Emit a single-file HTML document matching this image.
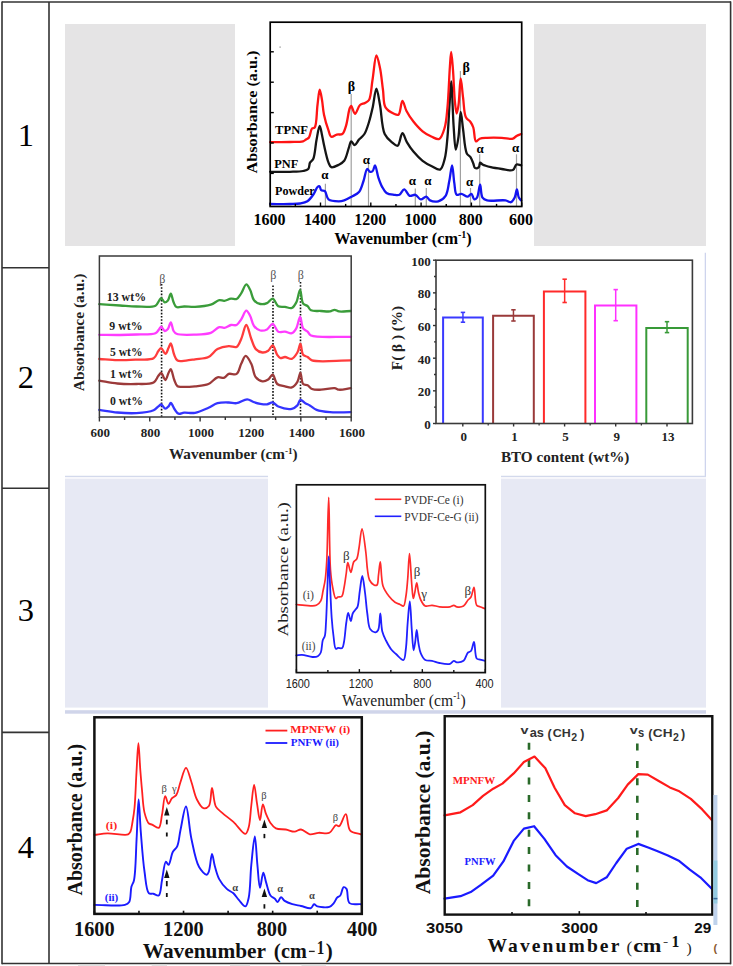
<!DOCTYPE html>
<html><head><meta charset="utf-8"><title>FTIR table</title>
<style>
html,body{margin:0;padding:0;background:#fff;}
body{width:733px;height:966px;overflow:hidden;font-family:"Liberation Serif",serif;}
svg{display:block;}
</style></head><body>
<svg width="733" height="966" viewBox="0 0 733 966">
<line x1="2" y1="2" x2="731" y2="2" stroke="#333" stroke-width="1.6" />
<line x1="2" y1="1.5" x2="2" y2="964.3" stroke="#333" stroke-width="1.6" />
<line x1="730.6" y1="1.5" x2="730.6" y2="964.3" stroke="#333" stroke-width="1.6" />
<line x1="2" y1="963.5" x2="731" y2="963.5" stroke="#333" stroke-width="1.6" />
<line x1="49" y1="2" x2="49" y2="964" stroke="#333" stroke-width="1.6" />
<rect x="78" y="964.6" width="27" height="1.4" fill="#e2e2e2" stroke="none" stroke-width="1" />
<rect x="151.7" y="964.6" width="15.300000000000011" height="1.4" fill="#e2e2e2" stroke="none" stroke-width="1" />
<rect x="230" y="964.6" width="20" height="1.4" fill="#e2e2e2" stroke="none" stroke-width="1" />
<rect x="301.5" y="964.6" width="24.5" height="1.4" fill="#e2e2e2" stroke="none" stroke-width="1" />
<rect x="279.5" y="46.5" width="1.2" height="1.2" fill="#888"/>
<line x1="2" y1="267.8" x2="49" y2="267.8" stroke="#333" stroke-width="1.6" />
<line x1="2" y1="488.3" x2="49" y2="488.3" stroke="#333" stroke-width="1.6" />
<line x1="2" y1="732.4" x2="49" y2="732.4" stroke="#333" stroke-width="1.6" />
<text x="25.8" y="145.6" font-family="Liberation Serif" font-size="32.5" fill="#000" text-anchor="middle" >1</text>
<text x="25.8" y="388.0" font-family="Liberation Serif" font-size="32.5" fill="#000" text-anchor="middle" >2</text>
<text x="25.8" y="620.6" font-family="Liberation Serif" font-size="32.5" fill="#000" text-anchor="middle" >3</text>
<text x="25.8" y="857.8" font-family="Liberation Serif" font-size="32.5" fill="#000" text-anchor="middle" >4</text>
<rect x="65" y="24" width="170" height="222" fill="#e5e4e5" stroke="none" stroke-width="1" />
<rect x="534" y="24" width="172" height="222" fill="#e5e4e5" stroke="none" stroke-width="1" />
<line x1="351.2" y1="94" x2="351.2" y2="206.5" stroke="#a0a0a0" stroke-width="1.2" />
<line x1="325.4" y1="183.8" x2="325.4" y2="206.5" stroke="#a0a0a0" stroke-width="1.2" />
<line x1="368.5" y1="163.5" x2="368.5" y2="206.5" stroke="#a0a0a0" stroke-width="1.2" />
<line x1="415.3" y1="188.4" x2="415.3" y2="206.5" stroke="#a0a0a0" stroke-width="1.2" />
<line x1="426.3" y1="188" x2="426.3" y2="206.5" stroke="#a0a0a0" stroke-width="1.2" />
<line x1="460.4" y1="71" x2="460.4" y2="206.5" stroke="#a0a0a0" stroke-width="1.2" />
<line x1="470.5" y1="188" x2="470.5" y2="206.5" stroke="#a0a0a0" stroke-width="1.2" />
<line x1="479.7" y1="154.3" x2="479.7" y2="206.5" stroke="#a0a0a0" stroke-width="1.2" />
<line x1="516.5" y1="154.3" x2="516.5" y2="206.5" stroke="#a0a0a0" stroke-width="1.2" />
<path d="M270.20,204.00 C276.80,204.00 284.52,204.14 290.00,204.00 C293.90,203.90 296.95,204.02 300.00,203.50 C302.68,203.04 305.20,202.72 307.40,201.30 C309.87,199.70 312.06,196.42 313.80,193.90 C315.35,191.64 316.24,188.12 317.50,187.00 C318.16,186.41 318.94,185.97 319.50,186.20 C320.29,186.53 320.25,189.37 321.20,190.20 C322.09,190.98 323.84,190.29 324.90,191.20 C326.51,192.59 326.36,197.70 328.50,199.40 C330.81,201.23 335.82,201.27 338.70,201.30 C340.81,201.32 342.28,201.02 344.20,200.40 C346.54,199.64 349.17,198.08 351.60,196.70 C354.10,195.28 357.08,194.30 359.00,192.00 C361.24,189.32 362.15,184.78 363.50,181.00 C364.89,177.12 365.69,169.37 367.20,169.00 C368.05,168.79 368.99,171.54 370.00,171.80 C370.85,172.02 371.95,171.67 372.70,171.00 C373.80,170.01 374.23,165.35 375.00,165.40 C376.10,165.47 377.06,173.61 378.30,177.30 C379.42,180.62 380.52,183.86 382.00,186.60 C383.31,189.02 384.49,191.63 386.50,193.00 C388.50,194.36 391.69,194.53 394.00,194.80 C395.93,195.03 397.80,195.53 399.40,194.80 C401.26,193.95 402.55,189.29 404.20,189.30 C405.98,189.31 407.62,195.05 409.70,195.80 C411.40,196.41 413.54,194.33 415.30,194.80 C417.27,195.32 418.89,199.17 420.80,199.40 C422.57,199.61 424.73,196.44 426.30,196.70 C427.75,196.94 428.34,199.61 430.00,200.40 C432.09,201.40 435.75,202.00 438.30,201.30 C440.97,200.56 443.81,198.50 445.60,195.80 C447.91,192.31 448.22,186.02 449.30,181.00 C450.40,175.89 451.28,165.38 452.10,165.40 C452.96,165.42 453.44,177.64 454.30,182.90 C455.01,187.26 454.87,193.58 456.70,194.80 C457.84,195.56 459.67,193.72 461.30,193.90 C463.29,194.12 465.91,196.91 467.70,196.70 C469.16,196.53 470.36,193.66 471.40,193.90 C472.60,194.17 473.07,199.09 474.20,199.40 C475.03,199.62 476.21,198.72 477.00,197.60 C478.59,195.37 479.18,184.68 480.10,184.70 C481.01,184.72 480.73,195.03 482.50,197.60 C483.63,199.24 484.94,199.79 487.10,200.40 C491.09,201.52 501.20,199.71 505.50,200.40 C507.91,200.78 509.47,202.65 511.00,202.20 C512.54,201.74 513.75,199.48 514.70,197.60 C515.85,195.33 516.22,189.29 516.90,189.30 C517.58,189.31 517.82,195.65 518.80,197.60 C519.45,198.89 520.40,199.47 521.20,200.40" fill="none" stroke="#1414f0" stroke-width="2.3" stroke-linejoin="round" stroke-linecap="round" />
<path d="M270.20,171.80 C276.80,171.80 284.09,171.98 290.00,171.80 C294.79,171.65 299.66,171.72 303.00,171.00 C305.20,170.53 307.13,170.29 308.30,169.00 C309.56,167.60 309.06,164.34 310.00,162.60 C310.80,161.11 312.31,160.85 313.20,159.00 C314.99,155.29 315.33,145.86 316.50,140.00 C317.52,134.91 318.70,125.81 319.70,125.80 C320.51,125.79 321.29,131.86 322.00,135.00 C322.73,138.26 323.14,141.21 324.00,145.00 C325.15,150.06 326.86,158.71 328.50,162.60 C329.39,164.72 329.86,166.67 331.30,167.20 C333.03,167.84 336.49,165.92 338.70,164.80 C340.76,163.75 342.68,162.83 344.20,160.80 C346.36,157.91 347.51,151.47 348.80,147.90 C349.72,145.36 350.10,141.63 351.20,141.40 C352.14,141.21 353.51,145.16 354.70,145.10 C356.10,145.03 357.43,141.40 359.00,139.60 C360.65,137.70 362.87,136.41 364.40,134.00 C366.37,130.90 367.66,126.24 369.00,122.00 C370.46,117.41 371.53,112.58 372.70,107.40 C374.01,101.57 375.14,88.71 376.40,88.70 C377.58,88.69 378.81,98.77 380.00,105.00 C381.58,113.26 381.66,127.50 384.70,134.00 C386.57,138.00 389.56,140.37 392.00,142.40 C393.86,143.95 396.04,146.25 397.60,145.70 C399.84,144.91 400.72,133.18 402.40,133.10 C403.87,133.03 405.21,139.37 407.00,142.40 C408.86,145.55 410.92,148.64 413.40,151.60 C416.07,154.79 419.37,158.28 422.60,160.80 C425.53,163.09 428.75,164.80 431.80,166.30 C434.58,167.67 438.00,170.47 440.10,169.60 C442.50,168.60 443.53,163.21 444.70,158.90 C446.32,152.95 446.74,144.85 447.50,136.80 C448.41,127.17 448.84,114.82 449.50,105.00 C450.07,96.52 450.63,81.29 451.20,81.30 C451.99,81.31 452.69,113.26 453.60,125.80 C454.27,135.00 454.79,149.64 455.80,149.70 C456.55,149.74 457.75,141.82 458.50,136.80 C459.52,129.90 459.85,112.02 460.70,112.00 C461.42,111.98 462.18,123.22 463.10,129.50 C464.17,136.85 464.60,149.06 466.80,153.40 C467.82,155.42 469.46,155.58 470.50,157.10 C471.70,158.85 472.49,161.53 473.30,163.50 C473.98,165.15 474.07,167.57 475.10,168.10 C476.00,168.57 477.97,168.00 478.80,167.20 C479.73,166.30 479.35,162.84 480.10,162.60 C480.70,162.41 481.39,163.90 482.50,164.50 C484.38,165.51 487.81,166.47 490.80,167.20 C494.18,168.02 498.12,168.53 501.80,169.00 C505.48,169.47 510.41,171.21 512.90,170.00 C514.81,169.07 514.96,165.15 516.50,164.50 C517.82,163.94 519.63,165.10 521.20,165.40" fill="none" stroke="#151515" stroke-width="2.3" stroke-linejoin="round" stroke-linecap="round" />
<path d="M270.20,142.20 C276.80,142.13 284.09,142.19 290.00,142.00 C294.79,141.85 300.25,142.14 303.00,141.30 C304.43,140.86 305.01,140.13 306.00,139.50 C307.01,138.86 308.15,138.62 309.00,137.50 C310.38,135.69 310.58,129.92 312.00,128.50 C312.78,127.72 313.95,128.52 314.70,127.60 C316.82,125.01 316.59,111.81 317.50,105.00 C318.25,99.37 318.86,89.63 319.70,89.60 C320.39,89.57 321.33,96.22 322.00,100.00 C322.80,104.46 322.96,109.76 324.00,114.70 C325.09,119.89 327.04,126.36 328.50,130.40 C329.45,133.04 329.82,136.19 331.30,136.80 C332.67,137.36 334.93,135.07 336.80,134.60 C338.60,134.15 340.85,135.05 342.30,134.00 C344.15,132.66 344.92,129.12 346.00,125.80 C347.53,121.12 348.44,111.35 349.70,108.30 C350.20,107.11 350.62,105.96 351.20,106.00 C352.22,106.06 353.60,113.76 355.00,113.80 C356.51,113.85 357.98,106.77 360.00,105.00 C361.48,103.71 363.48,103.86 365.00,103.00 C366.47,102.18 367.92,101.77 369.00,100.00 C371.18,96.44 371.33,87.01 372.50,80.00 C373.79,72.25 374.89,55.59 376.40,55.50 C377.49,55.43 378.99,63.21 380.00,68.00 C381.32,74.26 382.03,83.10 383.00,90.00 C383.86,96.14 383.09,103.32 385.50,107.40 C387.38,110.57 391.50,112.68 394.00,113.80 C395.64,114.54 397.28,115.45 398.50,114.70 C400.67,113.37 400.96,100.88 402.40,100.80 C403.66,100.73 404.75,107.66 406.50,111.00 C408.37,114.57 410.77,118.17 413.40,121.50 C416.12,124.95 419.34,128.67 422.60,131.30 C425.51,133.64 428.82,135.49 431.80,136.80 C434.33,137.91 437.19,139.89 439.20,139.00 C441.78,137.86 443.35,132.08 444.70,127.60 C446.43,121.85 446.72,115.03 447.50,107.00 C448.59,95.80 449.15,76.75 449.90,66.60 C450.35,60.45 450.72,51.80 451.20,51.80 C451.74,51.80 452.45,63.25 453.00,70.20 C453.72,79.27 454.06,93.64 454.90,101.60 C455.42,106.52 456.04,113.48 456.70,113.50 C457.26,113.52 457.97,108.78 458.50,105.20 C459.45,98.85 459.86,78.52 460.70,78.50 C461.42,78.49 462.23,91.44 463.10,97.90 C463.97,104.37 463.88,113.22 465.90,117.30 C467.07,119.67 469.26,120.27 470.50,122.00 C471.70,123.68 472.50,125.18 473.30,127.50 C474.51,131.02 474.29,140.73 476.00,141.40 C476.97,141.78 478.16,139.31 479.70,138.70 C481.65,137.93 484.13,137.98 487.00,137.80 C491.06,137.55 497.22,137.61 501.80,137.80 C505.77,137.96 510.31,139.47 512.90,138.70 C514.56,138.21 515.16,136.67 516.50,135.90 C517.91,135.09 519.63,134.63 521.20,134.00" fill="none" stroke="#ff1414" stroke-width="2.3" stroke-linejoin="round" stroke-linecap="round" />
<rect x="270.2" y="22.2" width="251.50000000000006" height="184.3" fill="none" stroke="#000" stroke-width="1.7" />
<line x1="270.2" y1="51.8" x2="273.8" y2="51.8" stroke="#000" stroke-width="1.4" />
<line x1="270.2" y1="82.2" x2="273.8" y2="82.2" stroke="#000" stroke-width="1.4" />
<line x1="270.2" y1="112.6" x2="273.8" y2="112.6" stroke="#000" stroke-width="1.4" />
<line x1="270.2" y1="143" x2="273.8" y2="143" stroke="#000" stroke-width="1.4" />
<line x1="270.2" y1="173.4" x2="273.8" y2="173.4" stroke="#000" stroke-width="1.4" />
<line x1="270.2" y1="206.5" x2="270.2" y2="202.5" stroke="#000" stroke-width="1.4" />
<line x1="295.35" y1="206.5" x2="295.35" y2="203.9" stroke="#000" stroke-width="1.4" />
<line x1="320.5" y1="206.5" x2="320.5" y2="202.5" stroke="#000" stroke-width="1.4" />
<line x1="345.65" y1="206.5" x2="345.65" y2="203.9" stroke="#000" stroke-width="1.4" />
<line x1="370.8" y1="206.5" x2="370.8" y2="202.5" stroke="#000" stroke-width="1.4" />
<line x1="395.95000000000005" y1="206.5" x2="395.95000000000005" y2="203.9" stroke="#000" stroke-width="1.4" />
<line x1="421.1" y1="206.5" x2="421.1" y2="202.5" stroke="#000" stroke-width="1.4" />
<line x1="446.25" y1="206.5" x2="446.25" y2="203.9" stroke="#000" stroke-width="1.4" />
<line x1="471.40000000000003" y1="206.5" x2="471.40000000000003" y2="202.5" stroke="#000" stroke-width="1.4" />
<line x1="496.55000000000007" y1="206.5" x2="496.55000000000007" y2="203.9" stroke="#000" stroke-width="1.4" />
<line x1="521.7" y1="206.5" x2="521.7" y2="202.5" stroke="#000" stroke-width="1.4" />
<text x="269.59999999999997" y="225" font-family="Liberation Serif" font-size="16" font-weight="bold" fill="#000" text-anchor="middle" >1600</text>
<text x="319.9" y="225" font-family="Liberation Serif" font-size="16" font-weight="bold" fill="#000" text-anchor="middle" >1400</text>
<text x="370.2" y="225" font-family="Liberation Serif" font-size="16" font-weight="bold" fill="#000" text-anchor="middle" >1200</text>
<text x="420.5" y="225" font-family="Liberation Serif" font-size="16" font-weight="bold" fill="#000" text-anchor="middle" >1000</text>
<text x="470.8" y="225" font-family="Liberation Serif" font-size="16" font-weight="bold" fill="#000" text-anchor="middle" >800</text>
<text x="521.1" y="225" font-family="Liberation Serif" font-size="16" font-weight="bold" fill="#000" text-anchor="middle" >600</text>
<text x="334.2" y="244.4" font-family="Liberation Serif" font-size="16.2" font-weight="bold" fill="#000" text-anchor="start" textLength="137.5" lengthAdjust="spacingAndGlyphs" >Wavenumber (cm<tspan font-size="10" dy="-6">-1</tspan><tspan dy="6">)</tspan></text>
<text x="0" y="0" font-family="Liberation Serif" font-size="15.2" font-weight="bold" fill="#000" text-anchor="middle" textLength="123" lengthAdjust="spacingAndGlyphs" transform="translate(257.2,112) rotate(-90)">Absorbance (a.u.)</text>
<text x="275" y="134.2" font-family="Liberation Serif" font-size="12.4" font-weight="bold" fill="#000" text-anchor="start" textLength="33" lengthAdjust="spacingAndGlyphs" >TPNF</text>
<text x="274.2" y="168.2" font-family="Liberation Serif" font-size="12.4" font-weight="bold" fill="#000" text-anchor="start" textLength="24" lengthAdjust="spacingAndGlyphs" >PNF</text>
<text x="275.1" y="195" font-family="Liberation Serif" font-size="12.4" font-weight="bold" fill="#000" text-anchor="start" textLength="39.6" lengthAdjust="spacingAndGlyphs" >Powder</text>
<text x="351.5" y="90.5" font-family="Liberation Serif" font-size="14" font-weight="bold" fill="#000" text-anchor="middle" >β</text>
<text x="466.2" y="72" font-family="Liberation Serif" font-size="14" font-weight="bold" fill="#000" text-anchor="middle" >β</text>
<text x="324.9" y="178.5" font-family="Liberation Serif" font-size="13" font-weight="bold" fill="#000" text-anchor="middle" >α</text>
<text x="366.3" y="163.8" font-family="Liberation Serif" font-size="13" font-weight="bold" fill="#000" text-anchor="middle" >α</text>
<text x="412.5" y="184.8" font-family="Liberation Serif" font-size="13" font-weight="bold" fill="#000" text-anchor="middle" >α</text>
<text x="427.8" y="185.2" font-family="Liberation Serif" font-size="13" font-weight="bold" fill="#000" text-anchor="middle" >α</text>
<text x="469.6" y="186" font-family="Liberation Serif" font-size="13" font-weight="bold" fill="#000" text-anchor="middle" >α</text>
<text x="480.1" y="152.5" font-family="Liberation Serif" font-size="13" font-weight="bold" fill="#000" text-anchor="middle" >α</text>
<text x="515.6" y="152.3" font-family="Liberation Serif" font-size="13" font-weight="bold" fill="#000" text-anchor="middle" >α</text>
<line x1="161.6" y1="284" x2="161.6" y2="417.0" stroke="#111" stroke-width="1.6" stroke-dasharray="1.6,1.6"/>
<line x1="273.0" y1="285.5" x2="273.0" y2="417.0" stroke="#111" stroke-width="1.6" stroke-dasharray="1.6,1.6"/>
<line x1="300.5" y1="282" x2="300.5" y2="417.0" stroke="#111" stroke-width="1.6" stroke-dasharray="1.6,1.6"/>
<path d="M99.30,304.20 C106.20,304.63 113.50,305.10 120.00,305.50 C125.78,305.86 130.72,306.45 136.40,306.50 C142.52,306.56 151.78,307.71 155.50,305.70 C157.67,304.53 158.23,301.79 159.30,300.40 C160.02,299.46 160.47,298.10 161.20,298.10 C162.19,298.10 163.46,302.09 164.70,302.30 C165.72,302.48 166.99,301.43 167.90,300.40 C169.17,298.95 169.89,293.66 170.80,293.70 C171.81,293.75 172.50,299.90 173.60,302.30 C174.46,304.19 174.98,306.32 176.50,307.10 C178.28,308.01 181.34,306.56 184.10,306.50 C187.40,306.43 191.04,307.10 195.00,306.90 C199.79,306.66 206.44,306.11 210.80,304.70 C214.18,303.61 216.77,300.67 219.30,300.20 C221.13,299.86 222.53,300.98 224.30,300.80 C226.39,300.59 228.84,298.87 231.00,298.60 C232.93,298.36 234.98,299.70 236.60,299.00 C238.45,298.21 239.72,295.56 241.20,293.40 C242.97,290.82 244.65,284.48 246.30,284.40 C247.64,284.34 249.03,287.77 250.20,290.00 C251.68,292.82 252.03,297.82 254.00,300.20 C255.62,302.16 258.08,303.54 260.30,304.00 C262.43,304.44 264.96,303.96 267.00,303.10 C269.11,302.21 270.92,298.36 272.70,298.60 C274.73,298.87 276.01,304.89 278.30,306.20 C280.23,307.31 282.76,306.60 285.00,306.90 C287.26,307.20 289.93,308.72 291.80,308.00 C293.71,307.27 295.04,304.78 296.30,302.40 C298.00,299.20 298.98,289.96 300.10,290.00 C301.26,290.05 301.21,300.88 303.10,303.50 C304.26,305.11 306.29,305.07 307.60,306.20 C308.92,307.34 309.32,309.44 311.00,310.30 C313.30,311.48 317.75,310.81 321.00,311.00 C324.08,311.18 327.53,311.76 330.00,311.40 C331.82,311.13 333.09,309.79 334.60,309.80 C336.08,309.81 337.14,311.10 339.00,311.40 C341.98,311.87 347.00,311.13 351.00,311.00" fill="none" stroke="#3a9c3a" stroke-width="2.3" stroke-linejoin="round" stroke-linecap="round" />
<path d="M99.30,334.80 C106.20,334.87 113.50,335.07 120.00,335.00 C125.79,334.94 130.73,334.78 136.40,334.50 C142.53,334.20 151.75,335.02 155.50,333.20 C157.54,332.21 158.26,330.20 159.30,329.00 C160.05,328.13 160.47,326.70 161.20,326.70 C162.19,326.70 163.46,330.79 164.70,331.00 C165.72,331.17 166.99,330.06 167.90,329.00 C169.17,327.53 169.90,322.26 170.80,322.30 C171.81,322.35 172.35,329.00 173.60,331.00 C174.43,332.33 174.93,333.12 176.50,333.80 C179.87,335.25 189.08,334.81 195.00,334.60 C200.48,334.41 206.49,334.36 210.80,332.80 C214.25,331.55 216.74,327.80 219.30,327.20 C221.10,326.78 222.55,328.04 224.30,327.80 C226.41,327.51 228.82,325.44 231.00,325.00 C232.91,324.62 234.98,325.77 236.60,325.00 C238.45,324.11 239.70,321.46 241.20,319.30 C242.95,316.78 244.65,310.78 246.30,310.70 C247.64,310.63 249.03,313.86 250.20,316.00 C251.69,318.73 252.08,323.52 254.00,326.00 C255.63,328.11 258.05,329.98 260.30,330.50 C262.40,330.99 265.00,330.42 267.00,329.40 C269.17,328.30 270.90,323.64 272.70,323.80 C274.68,323.98 275.99,330.50 278.30,331.70 C280.22,332.69 282.77,331.46 285.00,331.70 C287.27,331.95 289.90,333.80 291.80,333.20 C293.65,332.62 295.04,330.44 296.30,328.30 C297.99,325.44 298.96,316.96 300.10,317.00 C301.23,317.04 301.42,325.79 303.10,328.30 C304.27,330.04 306.26,330.46 307.60,331.70 C308.88,332.87 308.91,334.52 311.00,335.50 C316.85,338.24 337.67,336.43 351.00,336.90" fill="none" stroke="#ff3cff" stroke-width="2.3" stroke-linejoin="round" stroke-linecap="round" />
<path d="M99.30,359.00 C105.30,359.40 111.21,360.09 117.30,360.20 C123.57,360.31 130.20,359.93 136.40,359.60 C142.29,359.29 149.90,360.48 153.60,358.30 C156.23,356.75 156.93,352.83 158.40,351.00 C159.40,349.76 160.22,348.03 161.20,348.10 C162.51,348.19 164.16,353.98 165.40,353.90 C166.58,353.82 167.56,349.94 168.50,348.10 C169.34,346.46 170.04,343.34 170.80,343.40 C171.95,343.49 172.87,351.70 174.20,354.80 C175.19,357.12 175.74,359.57 177.50,360.60 C179.49,361.76 183.13,360.81 186.00,360.60 C188.96,360.39 191.70,359.82 195.00,359.30 C199.05,358.66 204.67,358.83 208.50,357.00 C212.08,355.29 214.09,350.90 217.50,349.10 C220.87,347.32 225.36,346.48 228.80,346.20 C231.62,345.97 234.57,347.95 236.60,346.90 C238.80,345.77 239.76,342.08 241.20,339.00 C243.04,335.06 244.62,324.99 246.30,325.00 C247.98,325.01 249.59,334.74 251.30,339.00 C252.77,342.67 253.64,346.83 255.80,349.10 C257.58,350.98 260.32,352.32 262.50,352.50 C264.44,352.66 266.55,351.81 268.20,350.70 C269.99,349.50 271.32,345.13 272.70,345.30 C274.38,345.51 275.61,352.54 277.20,354.80 C278.26,356.30 279.20,357.74 280.50,358.10 C281.80,358.46 283.35,356.98 285.00,357.00 C287.04,357.02 289.80,359.40 291.80,358.80 C293.99,358.14 295.98,354.91 297.40,352.50 C298.87,350.00 299.49,343.96 300.40,344.00 C301.41,344.05 301.40,352.70 303.10,354.80 C304.24,356.21 306.15,356.10 307.60,357.00 C309.13,357.95 309.59,359.58 312.00,360.40 C318.38,362.58 338.00,360.40 351.00,360.40" fill="none" stroke="#ff3c3c" stroke-width="2.3" stroke-linejoin="round" stroke-linecap="round" />
<path d="M99.30,380.60 C105.30,381.57 111.19,382.93 117.30,383.50 C123.55,384.08 130.21,384.19 136.40,384.00 C142.29,383.82 149.89,384.62 153.60,382.50 C156.16,381.04 156.95,377.51 158.40,375.80 C159.41,374.62 160.25,372.88 161.20,373.00 C162.56,373.17 164.17,380.08 165.40,380.00 C166.59,379.93 167.48,374.95 168.50,373.00 C169.28,371.51 170.05,369.11 170.80,369.20 C171.98,369.34 172.95,376.65 174.20,379.70 C175.22,382.20 175.93,385.18 177.50,386.30 C178.76,387.20 180.24,386.82 182.20,386.90 C185.42,387.03 190.69,386.77 195.00,386.30 C199.45,385.82 204.62,385.66 208.50,384.00 C212.01,382.50 214.55,378.18 217.50,377.30 C219.80,376.61 222.37,378.34 224.30,377.70 C226.09,377.10 226.95,374.58 228.80,373.90 C230.93,373.12 234.60,375.19 236.60,373.90 C238.99,372.36 239.60,366.93 241.20,363.80 C242.65,360.97 244.05,355.98 245.70,355.90 C247.40,355.82 249.72,360.68 251.30,363.80 C253.22,367.58 253.43,374.35 255.80,377.30 C257.56,379.48 260.30,381.04 262.50,381.30 C264.43,381.52 266.53,380.56 268.20,379.50 C269.96,378.38 271.33,374.40 272.70,374.60 C274.41,374.86 274.93,382.07 277.20,384.00 C279.20,385.71 282.47,385.73 285.00,386.30 C287.33,386.83 289.79,388.05 291.80,387.40 C293.96,386.70 295.99,384.08 297.40,381.80 C298.95,379.30 299.49,372.76 300.40,372.80 C301.41,372.84 301.31,382.16 303.10,384.00 C304.24,385.17 306.19,384.45 307.60,385.20 C309.18,386.03 310.11,388.21 312.00,389.00 C314.35,389.98 317.69,389.77 321.00,389.70 C325.07,389.62 331.32,387.73 334.60,388.10 C336.54,388.32 337.21,389.50 339.10,389.70 C342.09,390.01 347.03,388.63 351.00,388.10" fill="none" stroke="#9c3a3a" stroke-width="2.3" stroke-linejoin="round" stroke-linecap="round" />
<path d="M99.30,409.80 C105.30,410.70 111.19,411.95 117.30,412.50 C123.56,413.07 130.22,413.52 136.40,413.10 C142.30,412.70 149.77,411.90 153.60,410.20 C155.87,409.19 157.00,407.43 158.40,406.40 C159.44,405.64 160.21,404.41 161.20,404.50 C162.51,404.62 164.07,408.60 165.40,408.70 C166.48,408.78 167.61,407.33 168.50,406.40 C169.42,405.44 169.96,402.98 170.80,403.00 C171.93,403.03 173.25,407.44 174.60,409.30 C175.80,410.95 176.81,413.13 178.40,413.70 C179.98,414.26 181.88,412.88 184.10,412.70 C187.14,412.45 191.24,413.47 195.00,412.80 C199.33,412.03 204.49,409.45 208.50,407.70 C211.84,406.24 214.23,404.08 217.50,403.20 C220.97,402.27 225.38,402.45 228.80,402.50 C231.64,402.54 233.84,403.56 236.60,403.20 C239.91,402.76 244.14,399.22 247.20,399.30 C249.59,399.36 251.33,401.25 253.50,402.00 C255.70,402.76 258.02,403.42 260.30,403.80 C262.52,404.17 264.88,404.55 267.00,404.30 C269.00,404.07 270.88,402.21 272.70,402.50 C274.66,402.81 275.88,405.49 278.30,406.50 C281.71,407.92 288.36,409.46 291.80,408.80 C294.18,408.35 295.96,406.92 297.40,405.40 C298.82,403.91 299.05,400.12 300.40,399.80 C301.71,399.49 303.66,402.24 305.30,403.20 C306.80,404.08 308.18,404.47 309.80,405.40 C311.87,406.58 313.81,408.80 316.60,409.90 C320.20,411.33 325.01,411.78 330.00,412.20 C336.20,412.73 344.00,412.20 351.00,412.20" fill="none" stroke="#3434ff" stroke-width="2.3" stroke-linejoin="round" stroke-linecap="round" />
<rect x="99.4" y="256.0" width="251.79999999999998" height="161.0" fill="none" stroke="#3a3a3a" stroke-width="1.5" />
<line x1="99.4" y1="417.0" x2="99.4" y2="421.5" stroke="#333" stroke-width="1.4" />
<line x1="124.58000000000001" y1="417.0" x2="124.58000000000001" y2="420.0" stroke="#333" stroke-width="1.4" />
<line x1="149.76" y1="417.0" x2="149.76" y2="421.5" stroke="#333" stroke-width="1.4" />
<line x1="174.94" y1="417.0" x2="174.94" y2="420.0" stroke="#333" stroke-width="1.4" />
<line x1="200.12" y1="417.0" x2="200.12" y2="421.5" stroke="#333" stroke-width="1.4" />
<line x1="225.3" y1="417.0" x2="225.3" y2="420.0" stroke="#333" stroke-width="1.4" />
<line x1="250.48" y1="417.0" x2="250.48" y2="421.5" stroke="#333" stroke-width="1.4" />
<line x1="275.65999999999997" y1="417.0" x2="275.65999999999997" y2="420.0" stroke="#333" stroke-width="1.4" />
<line x1="300.84000000000003" y1="417.0" x2="300.84000000000003" y2="421.5" stroke="#333" stroke-width="1.4" />
<line x1="326.02" y1="417.0" x2="326.02" y2="420.0" stroke="#333" stroke-width="1.4" />
<line x1="351.20000000000005" y1="417.0" x2="351.20000000000005" y2="421.5" stroke="#333" stroke-width="1.4" />
<text x="100.2" y="437.2" font-family="Liberation Serif" font-size="13" font-weight="bold" fill="#222" text-anchor="middle" >600</text>
<text x="150.56" y="437.2" font-family="Liberation Serif" font-size="13" font-weight="bold" fill="#222" text-anchor="middle" >800</text>
<text x="200.92000000000002" y="437.2" font-family="Liberation Serif" font-size="13" font-weight="bold" fill="#222" text-anchor="middle" >1000</text>
<text x="251.28" y="437.2" font-family="Liberation Serif" font-size="13" font-weight="bold" fill="#222" text-anchor="middle" >1200</text>
<text x="301.64000000000004" y="437.2" font-family="Liberation Serif" font-size="13" font-weight="bold" fill="#222" text-anchor="middle" >1400</text>
<text x="352.00000000000006" y="437.2" font-family="Liberation Serif" font-size="13" font-weight="bold" fill="#222" text-anchor="middle" >1600</text>
<text x="169" y="458.8" font-family="Liberation Serif" font-size="14.2" font-weight="bold" fill="#222" text-anchor="start" textLength="128.6" lengthAdjust="spacingAndGlyphs" >Wavenumber (cm<tspan font-size="8.5" dy="-5">-1</tspan><tspan dy="5">)</tspan></text>
<text x="0" y="0" font-family="Liberation Serif" font-size="14" font-weight="bold" fill="#222" text-anchor="middle" textLength="117.5" lengthAdjust="spacingAndGlyphs" transform="translate(83.6,332.4) rotate(-90)">Absorbance (a.u.)</text>
<text x="106.8" y="300.6" font-family="Liberation Serif" font-size="12.8" font-weight="bold" fill="#222" text-anchor="start" textLength="39.2" lengthAdjust="spacingAndGlyphs" >13 wt%</text>
<text x="109.3" y="330.2" font-family="Liberation Serif" font-size="12.8" font-weight="bold" fill="#222" text-anchor="start" textLength="33.2" lengthAdjust="spacingAndGlyphs" >9 wt%</text>
<text x="110" y="355.6" font-family="Liberation Serif" font-size="12.8" font-weight="bold" fill="#222" text-anchor="start" textLength="32.5" lengthAdjust="spacingAndGlyphs" >5 wt%</text>
<text x="110" y="377.6" font-family="Liberation Serif" font-size="12.8" font-weight="bold" fill="#222" text-anchor="start" textLength="33" lengthAdjust="spacingAndGlyphs" >1 wt%</text>
<text x="110" y="404.7" font-family="Liberation Serif" font-size="12.8" font-weight="bold" fill="#222" text-anchor="start" textLength="33" lengthAdjust="spacingAndGlyphs" >0 wt%</text>
<text x="162.2" y="283.4" font-family="Liberation Serif" font-size="12" fill="#555" text-anchor="middle" >β</text>
<text x="273.3" y="278.5" font-family="Liberation Serif" font-size="12" fill="#555" text-anchor="middle" >β</text>
<text x="300.8" y="278.5" font-family="Liberation Serif" font-size="12" fill="#555" text-anchor="middle" >β</text>
<polyline points="443.1,423.5 443.1,317.4 482.8,317.4 482.8,423.5" fill="none" stroke="#3a3aff" stroke-width="2"/>
<line x1="462.95000000000005" y1="312.4" x2="462.95000000000005" y2="322.2" stroke="#3a3aff" stroke-width="1.5" />
<line x1="460.75000000000006" y1="312.4" x2="465.15000000000003" y2="312.4" stroke="#3a3aff" stroke-width="1.6" />
<line x1="460.75000000000006" y1="322.2" x2="465.15000000000003" y2="322.2" stroke="#3a3aff" stroke-width="1.6" />
<polyline points="493.1,423.5 493.1,315.7 533.8,315.7 533.8,423.5" fill="none" stroke="#9a3a3a" stroke-width="2"/>
<line x1="513.45" y1="309.8" x2="513.45" y2="321" stroke="#9a3a3a" stroke-width="1.5" />
<line x1="511.25000000000006" y1="309.8" x2="515.6500000000001" y2="309.8" stroke="#9a3a3a" stroke-width="1.6" />
<line x1="511.25000000000006" y1="321" x2="515.6500000000001" y2="321" stroke="#9a3a3a" stroke-width="1.6" />
<polyline points="543.9,423.5 543.9,291.4 585.4,291.4 585.4,423.5" fill="none" stroke="#ff2a2a" stroke-width="2"/>
<line x1="564.65" y1="279.2" x2="564.65" y2="302.5" stroke="#ff2a2a" stroke-width="1.5" />
<line x1="562.4499999999999" y1="279.2" x2="566.85" y2="279.2" stroke="#ff2a2a" stroke-width="1.6" />
<line x1="562.4499999999999" y1="302.5" x2="566.85" y2="302.5" stroke="#ff2a2a" stroke-width="1.6" />
<polyline points="595,423.5 595,305.4 636.4,305.4 636.4,423.5" fill="none" stroke="#ff30ff" stroke-width="2"/>
<line x1="615.7" y1="289.6" x2="615.7" y2="320.7" stroke="#ff30ff" stroke-width="1.5" />
<line x1="613.5" y1="289.6" x2="617.9000000000001" y2="289.6" stroke="#ff30ff" stroke-width="1.6" />
<line x1="613.5" y1="320.7" x2="617.9000000000001" y2="320.7" stroke="#ff30ff" stroke-width="1.6" />
<polyline points="646.3,423.5 646.3,328.0 687.7,328.0 687.7,423.5" fill="none" stroke="#389a38" stroke-width="2"/>
<line x1="667.0" y1="321.7" x2="667.0" y2="332.6" stroke="#389a38" stroke-width="1.5" />
<line x1="664.8" y1="321.7" x2="669.2" y2="321.7" stroke="#389a38" stroke-width="1.6" />
<line x1="664.8" y1="332.6" x2="669.2" y2="332.6" stroke="#389a38" stroke-width="1.6" />
<rect x="436.0" y="260.2" width="256.4" height="163.3" fill="none" stroke="#3a3a3a" stroke-width="1.6" />
<line x1="433.0" y1="423.5" x2="436.0" y2="423.5" stroke="#333" stroke-width="1.4" />
<line x1="434.0" y1="407.17" x2="436.0" y2="407.17" stroke="#333" stroke-width="1.4" />
<line x1="433.0" y1="390.84000000000003" x2="436.0" y2="390.84000000000003" stroke="#333" stroke-width="1.4" />
<line x1="434.0" y1="374.51" x2="436.0" y2="374.51" stroke="#333" stroke-width="1.4" />
<line x1="433.0" y1="358.18" x2="436.0" y2="358.18" stroke="#333" stroke-width="1.4" />
<line x1="434.0" y1="341.85" x2="436.0" y2="341.85" stroke="#333" stroke-width="1.4" />
<line x1="433.0" y1="325.52" x2="436.0" y2="325.52" stroke="#333" stroke-width="1.4" />
<line x1="434.0" y1="309.19" x2="436.0" y2="309.19" stroke="#333" stroke-width="1.4" />
<line x1="433.0" y1="292.86" x2="436.0" y2="292.86" stroke="#333" stroke-width="1.4" />
<line x1="434.0" y1="276.53" x2="436.0" y2="276.53" stroke="#333" stroke-width="1.4" />
<line x1="433.0" y1="260.2" x2="436.0" y2="260.2" stroke="#333" stroke-width="1.4" />
<text x="430.8" y="428.9" font-family="Liberation Serif" font-size="13" font-weight="bold" fill="#222" text-anchor="end" >0</text>
<text x="430.8" y="396.24" font-family="Liberation Serif" font-size="13" font-weight="bold" fill="#222" text-anchor="end" >20</text>
<text x="430.8" y="363.58" font-family="Liberation Serif" font-size="13" font-weight="bold" fill="#222" text-anchor="end" >40</text>
<text x="430.8" y="330.91999999999996" font-family="Liberation Serif" font-size="13" font-weight="bold" fill="#222" text-anchor="end" >60</text>
<text x="430.8" y="298.26" font-family="Liberation Serif" font-size="13" font-weight="bold" fill="#222" text-anchor="end" >80</text>
<text x="430.8" y="265.59999999999997" font-family="Liberation Serif" font-size="13" font-weight="bold" fill="#222" text-anchor="end" >100</text>
<line x1="462.8" y1="423.5" x2="462.8" y2="426.5" stroke="#333" stroke-width="1.4" />
<text x="463.8" y="441" font-family="Liberation Serif" font-size="13" font-weight="bold" fill="#222" text-anchor="middle" >0</text>
<line x1="513.6" y1="423.5" x2="513.6" y2="426.5" stroke="#333" stroke-width="1.4" />
<text x="514.6" y="441" font-family="Liberation Serif" font-size="13" font-weight="bold" fill="#222" text-anchor="middle" >1</text>
<line x1="564.6" y1="423.5" x2="564.6" y2="426.5" stroke="#333" stroke-width="1.4" />
<text x="565.6" y="441" font-family="Liberation Serif" font-size="13" font-weight="bold" fill="#222" text-anchor="middle" >5</text>
<line x1="615.7" y1="423.5" x2="615.7" y2="426.5" stroke="#333" stroke-width="1.4" />
<text x="616.7" y="441" font-family="Liberation Serif" font-size="13" font-weight="bold" fill="#222" text-anchor="middle" >9</text>
<line x1="667.0" y1="423.5" x2="667.0" y2="426.5" stroke="#333" stroke-width="1.4" />
<text x="668.0" y="441" font-family="Liberation Serif" font-size="13" font-weight="bold" fill="#222" text-anchor="middle" >13</text>
<line x1="488.20000000000005" y1="423.5" x2="488.20000000000005" y2="425.5" stroke="#333" stroke-width="1.2" />
<line x1="539.1" y1="423.5" x2="539.1" y2="425.5" stroke="#333" stroke-width="1.2" />
<line x1="590.1500000000001" y1="423.5" x2="590.1500000000001" y2="425.5" stroke="#333" stroke-width="1.2" />
<line x1="641.35" y1="423.5" x2="641.35" y2="425.5" stroke="#333" stroke-width="1.2" />
<text x="500.9" y="461.6" font-family="Liberation Serif" font-size="15" font-weight="bold" fill="#222" text-anchor="start" textLength="128.5" lengthAdjust="spacingAndGlyphs" >BTO content (wt%)</text>
<text x="0" y="0" font-family="Liberation Serif" font-size="14.5" font-weight="bold" fill="#222" text-anchor="middle" textLength="64.3" lengthAdjust="spacingAndGlyphs" transform="translate(402.4,338) rotate(-90)">F( β ) (%)</text>
<line x1="705.3" y1="252.8" x2="705.3" y2="476.4" stroke="#c6cdea" stroke-width="1.1" />
<rect x="65" y="478.9" width="203" height="228.7" fill="#e7e9f4" stroke="none" stroke-width="1" />
<rect x="501" y="478.9" width="205" height="228.7" fill="#e7e9f4" stroke="none" stroke-width="1" />
<rect x="65" y="477.2" width="203" height="1.7" fill="#f6f6fb" stroke="none" stroke-width="1" />
<rect x="501" y="477.2" width="205" height="1.7" fill="#f6f6fb" stroke="none" stroke-width="1" />
<line x1="65" y1="476.4" x2="268" y2="476.4" stroke="#d3d9ec" stroke-width="1.2" />
<line x1="501" y1="476.4" x2="706" y2="476.4" stroke="#d3d9ec" stroke-width="1.2" />
<rect x="65" y="710.2" width="641" height="3.5" fill="#d0d5ea" stroke="none" stroke-width="1" />
<path d="M296.30,604.50 C299.20,604.77 301.91,605.16 305.00,605.30 C308.52,605.46 313.54,606.44 316.30,605.30 C318.37,604.44 319.71,602.79 320.80,600.80 C322.17,598.30 322.28,594.44 323.00,591.00 C323.79,587.21 324.70,583.48 325.30,579.00 C326.05,573.41 326.35,568.18 326.80,560.00 C327.61,545.17 328.10,497.30 328.70,497.30 C329.34,497.30 329.28,553.92 330.50,570.00 C331.11,578.03 331.74,582.84 332.80,588.00 C333.62,592.00 334.48,598.02 335.80,598.50 C336.45,598.74 337.12,597.36 338.00,597.00 C339.06,596.57 340.84,597.18 341.80,596.30 C343.22,594.98 343.33,591.19 344.00,588.00 C344.89,583.75 345.63,577.56 346.30,573.00 C346.86,569.19 347.04,562.56 347.80,562.50 C348.55,562.44 349.82,572.31 350.80,572.30 C351.82,572.29 352.43,564.13 353.80,561.80 C354.66,560.35 356.01,560.27 356.80,558.80 C358.08,556.43 358.26,552.12 359.00,548.00 C359.99,542.52 360.93,528.80 362.00,528.80 C363.18,528.80 364.86,544.74 365.80,552.00 C366.62,558.37 366.75,564.89 367.50,570.00 C368.06,573.84 368.18,577.37 369.50,580.00 C370.57,582.13 372.50,584.33 374.00,585.00 C375.00,585.45 376.26,585.64 377.00,585.00 C378.36,583.82 377.99,578.57 378.50,575.00 C379.09,570.91 379.67,561.79 380.30,561.80 C381.15,561.81 380.95,579.79 383.00,586.00 C384.44,590.34 386.80,593.44 389.00,596.30 C390.86,598.71 392.96,600.90 395.00,602.30 C396.64,603.42 398.48,603.84 400.00,604.50 C401.27,605.05 402.60,606.44 403.50,606.00 C404.91,605.31 405.16,600.54 405.80,597.00 C406.69,592.06 407.13,585.53 407.70,579.00 C408.38,571.24 408.86,553.50 409.50,553.50 C410.21,553.50 411.04,576.70 411.80,585.00 C412.30,590.44 412.66,598.46 413.30,598.50 C413.73,598.53 414.30,594.75 414.80,592.50 C415.43,589.66 416.08,582.80 416.70,582.80 C417.32,582.80 417.76,589.49 418.50,592.50 C419.16,595.18 419.65,597.73 420.80,600.00 C421.93,602.22 423.36,605.15 425.30,606.00 C427.14,606.80 429.71,605.19 432.00,605.30 C434.44,605.41 436.78,606.53 439.50,606.80 C442.69,607.12 447.40,607.29 450.00,606.80 C451.62,606.49 452.62,605.25 453.80,605.30 C454.87,605.35 455.56,606.58 456.80,606.80 C458.56,607.11 461.66,607.06 463.50,606.00 C465.44,604.88 466.60,601.62 468.00,600.00 C469.06,598.78 470.14,598.43 471.00,597.00 C472.33,594.79 473.14,587.23 474.00,587.30 C475.15,587.39 474.72,602.67 476.70,605.30 C477.58,606.47 478.78,606.29 480.00,606.80 C481.49,607.42 483.33,608.07 485.00,608.70" fill="none" stroke="#ff2a2a" stroke-width="1.7" stroke-linejoin="round" stroke-linecap="round" />
<path d="M296.30,655.50 C298.20,655.27 299.82,654.71 302.00,654.80 C304.98,654.93 309.58,656.89 312.50,657.00 C314.56,657.08 316.40,657.10 317.80,656.30 C319.13,655.54 320.03,654.25 320.80,652.50 C322.02,649.72 321.79,643.49 322.70,640.50 C323.28,638.59 324.27,637.96 324.80,636.00 C325.67,632.76 325.64,628.13 326.00,622.50 C326.60,613.13 327.02,596.64 327.50,585.00 C327.92,574.85 328.29,556.50 328.70,556.50 C329.06,556.50 329.38,570.48 329.80,579.00 C330.35,590.22 330.92,607.49 331.70,618.00 C332.23,625.15 332.74,630.52 333.50,636.00 C334.15,640.64 334.36,647.97 335.80,648.80 C336.41,649.15 337.13,648.15 338.00,648.00 C339.16,647.80 341.21,648.74 342.20,648.00 C343.41,647.10 343.46,644.60 344.00,642.00 C344.96,637.39 345.46,627.86 346.30,622.50 C346.90,618.69 347.41,612.84 348.20,612.80 C348.93,612.76 350.04,621.02 350.80,621.00 C351.53,620.98 351.78,615.50 352.70,613.50 C353.40,611.97 354.46,610.96 355.30,609.80 C356.06,608.74 356.88,608.30 357.50,606.80 C358.77,603.69 358.99,596.19 359.80,591.00 C360.59,585.93 361.45,576.00 362.30,576.00 C363.19,576.00 364.20,586.66 365.00,592.50 C365.90,599.07 366.33,607.01 367.30,613.50 C368.15,619.16 368.16,626.29 370.30,629.30 C371.61,631.14 374.08,632.43 375.50,632.30 C376.59,632.20 377.48,631.33 378.20,630.00 C379.75,627.13 379.63,613.49 380.30,613.50 C381.00,613.51 381.05,626.60 382.30,631.50 C383.22,635.09 384.53,637.55 386.00,640.50 C387.52,643.55 389.41,647.11 391.30,649.50 C392.79,651.38 394.21,652.43 396.00,654.00 C398.17,655.90 401.86,660.58 403.50,660.00 C405.23,659.39 405.18,653.84 405.80,649.50 C406.79,642.61 406.98,630.93 407.70,622.50 C408.33,615.06 409.16,601.49 409.80,601.50 C410.55,601.51 411.11,621.31 411.80,630.00 C412.38,637.34 412.86,650.26 413.60,650.30 C414.08,650.32 414.72,645.03 415.20,642.00 C415.78,638.38 416.17,630.00 416.70,630.00 C417.26,630.00 417.74,639.38 418.50,643.50 C419.15,647.04 419.55,650.44 420.80,653.30 C421.92,655.86 423.31,658.78 425.30,660.00 C427.12,661.11 429.72,660.33 432.00,660.80 C434.45,661.30 436.76,662.50 439.50,663.00 C442.68,663.58 447.47,664.57 450.00,663.80 C451.71,663.28 452.57,660.93 453.80,660.80 C454.82,660.69 455.57,662.15 456.80,662.30 C458.56,662.52 461.71,662.16 463.50,660.80 C465.60,659.21 466.39,654.06 468.00,652.50 C468.96,651.57 470.15,651.98 471.00,651.00 C472.43,649.35 473.14,641.93 474.00,642.00 C475.14,642.09 474.77,656.17 476.70,658.50 C477.58,659.57 478.77,659.34 480.00,659.70 C481.48,660.13 483.33,660.43 485.00,660.80" fill="none" stroke="#2020ff" stroke-width="1.8" stroke-linejoin="round" stroke-linecap="round" />
<rect x="296.4" y="484.8" width="188.90000000000003" height="187.8" fill="none" stroke="#111" stroke-width="1.7" />
<line x1="296.4" y1="672.6" x2="296.4" y2="669.1" stroke="#111" stroke-width="1.4" />
<line x1="327.8833333333333" y1="672.6" x2="327.8833333333333" y2="670.1" stroke="#111" stroke-width="1.4" />
<line x1="359.3666666666667" y1="672.6" x2="359.3666666666667" y2="669.1" stroke="#111" stroke-width="1.4" />
<line x1="390.84999999999997" y1="672.6" x2="390.84999999999997" y2="670.1" stroke="#111" stroke-width="1.4" />
<line x1="422.3333333333333" y1="672.6" x2="422.3333333333333" y2="669.1" stroke="#111" stroke-width="1.4" />
<line x1="453.8166666666667" y1="672.6" x2="453.8166666666667" y2="670.1" stroke="#111" stroke-width="1.4" />
<line x1="485.29999999999995" y1="672.6" x2="485.29999999999995" y2="669.1" stroke="#111" stroke-width="1.4" />
<line x1="374.8" y1="499.3" x2="401.3" y2="499.3" stroke="#ff2a2a" stroke-width="1.6" />
<line x1="374.8" y1="516.3" x2="401.3" y2="516.3" stroke="#2020ff" stroke-width="1.6" />
<text x="404.3" y="504.2" font-family="Liberation Serif" font-size="12.8" fill="#333" text-anchor="start" textLength="59.2" lengthAdjust="spacingAndGlyphs" >PVDF-Ce (i)</text>
<text x="404.3" y="520.7" font-family="Liberation Serif" font-size="12.8" fill="#333" text-anchor="start" textLength="74.2" lengthAdjust="spacingAndGlyphs" >PVDF-Ce-G (ii)</text>
<text x="346.3" y="559.8" font-family="Liberation Serif" font-size="13" fill="#333" text-anchor="middle" >β</text>
<text x="417" y="575.6" font-family="Liberation Serif" font-size="13" fill="#333" text-anchor="middle" >β</text>
<text x="424.2" y="597.6" font-family="Liberation Serif" font-size="13" fill="#333" text-anchor="middle" >γ</text>
<text x="467.7" y="595.2" font-family="Liberation Serif" font-size="13" fill="#333" text-anchor="middle" >β</text>
<text x="308.4" y="598.6" font-family="Liberation Serif" font-size="12" fill="#444" text-anchor="middle" textLength="11.2" lengthAdjust="spacingAndGlyphs" >(i)</text>
<text x="308.6" y="650.2" font-family="Liberation Serif" font-size="12" fill="#444" text-anchor="middle" textLength="13.8" lengthAdjust="spacingAndGlyphs" >(ii)</text>
<text x="297.8" y="688" font-family="Liberation Sans" font-size="13.6" fill="#222" text-anchor="middle" textLength="24.3" lengthAdjust="spacingAndGlyphs" >1600</text>
<text x="361" y="688" font-family="Liberation Sans" font-size="13.6" fill="#222" text-anchor="middle" textLength="24.3" lengthAdjust="spacingAndGlyphs" >1200</text>
<text x="422.3" y="688" font-family="Liberation Sans" font-size="13.6" fill="#222" text-anchor="middle" textLength="18.2" lengthAdjust="spacingAndGlyphs" >800</text>
<text x="484.5" y="688" font-family="Liberation Sans" font-size="13.6" fill="#222" text-anchor="middle" textLength="18.2" lengthAdjust="spacingAndGlyphs" >400</text>
<text x="342" y="706" font-family="Liberation Serif" font-size="17.5" fill="#222" text-anchor="start" textLength="123.8" lengthAdjust="spacingAndGlyphs" >Wavenumber (cm<tspan font-size="10" dy="-7">-1</tspan><tspan dy="7">)</tspan></text>
<text x="0" y="0" font-family="Liberation Serif" font-size="15.5" fill="#222" text-anchor="middle" textLength="134.3" lengthAdjust="spacingAndGlyphs" transform="translate(288.2,569.3) rotate(-90)">Absorbance (a.u.)</text>
<path d="M94.30,834.90 C98.67,834.37 102.53,833.47 107.40,833.30 C113.51,833.09 124.72,835.88 128.10,834.40 C129.54,833.77 129.85,832.85 130.50,831.50 C131.55,829.33 131.89,825.48 132.50,822.00 C133.24,817.80 133.93,813.76 134.50,808.00 C135.41,798.80 135.81,783.33 136.50,772.00 C137.12,761.86 137.75,743.20 138.40,743.20 C139.02,743.20 139.65,761.72 140.30,770.00 C140.86,777.16 141.33,783.13 142.00,790.00 C142.71,797.31 142.96,806.51 144.50,812.60 C145.60,816.98 147.09,821.79 148.90,823.50 C149.87,824.42 150.86,824.08 152.10,824.60 C153.93,825.37 157.09,828.64 158.70,827.90 C160.88,826.90 160.99,819.57 162.00,814.80 C163.19,809.16 163.78,796.37 165.20,796.20 C166.14,796.09 167.32,803.82 168.50,803.90 C169.54,803.97 170.45,799.90 171.80,798.40 C173.05,797.01 174.95,796.84 176.20,795.10 C178.18,792.34 178.91,786.43 180.50,782.00 C182.17,777.34 184.18,767.79 186.00,767.80 C187.82,767.81 189.66,776.99 191.40,782.00 C193.31,787.50 194.51,794.83 196.90,799.50 C198.74,803.09 201.05,807.54 203.40,808.20 C205.13,808.69 207.52,807.71 208.90,806.00 C211.33,803.00 210.85,788.02 212.00,788.00 C213.18,787.98 213.51,802.22 215.90,806.60 C217.57,809.66 219.96,810.84 222.50,813.10 C225.62,815.89 229.77,818.63 233.40,821.90 C237.40,825.50 242.81,834.32 245.40,833.90 C247.11,833.62 247.82,830.24 248.70,827.30 C250.22,822.23 250.39,812.67 251.30,805.50 C252.19,798.51 253.12,784.81 254.10,784.80 C255.03,784.79 256.00,797.27 257.00,803.30 C257.96,809.09 259.02,820.30 260.00,820.30 C260.95,820.30 261.62,804.49 262.80,804.40 C263.74,804.33 264.80,811.06 266.10,814.20 C267.37,817.26 268.73,820.54 270.50,823.00 C272.06,825.17 273.59,827.29 275.90,828.40 C278.54,829.67 282.63,828.93 285.80,829.50 C288.81,830.05 291.83,831.81 294.50,831.70 C296.84,831.61 298.72,829.30 301.00,829.50 C303.76,829.74 306.79,833.80 309.80,834.30 C312.63,834.77 315.42,833.06 318.50,832.80 C321.92,832.51 326.46,834.15 329.40,832.80 C332.24,831.49 334.02,825.64 336.00,825.10 C337.14,824.79 338.12,826.62 339.20,826.20 C341.36,825.36 344.02,813.98 345.80,814.20 C347.78,814.44 347.13,827.31 350.20,830.60 C352.72,833.30 357.40,833.07 361.00,834.30" fill="none" stroke="#ff2020" stroke-width="1.8" stroke-linejoin="round" stroke-linecap="round" />
<path d="M94.30,904.90 C104.50,904.90 119.46,906.56 124.90,904.90 C127.14,904.22 128.14,903.69 129.20,902.00 C131.03,899.09 130.34,890.78 131.40,886.80 C132.12,884.10 133.28,883.42 134.00,880.20 C135.73,872.42 135.83,852.59 136.60,839.00 C137.36,825.70 137.86,799.51 138.60,799.50 C139.27,799.49 139.88,820.64 140.80,832.00 C141.81,844.53 142.85,860.31 144.50,871.50 C145.73,879.88 146.19,890.87 148.90,893.30 C150.09,894.37 151.70,893.39 153.20,893.70 C154.94,894.06 157.31,896.30 158.70,895.50 C160.99,894.19 160.86,885.54 162.00,880.20 C163.25,874.33 164.22,862.11 165.90,861.70 C166.68,861.51 167.66,865.05 168.50,864.90 C170.04,864.62 171.10,855.10 172.90,851.80 C174.17,849.47 176.05,848.87 177.20,846.40 C178.99,842.56 179.21,835.95 180.50,830.00 C182.05,822.86 184.30,806.45 186.00,806.50 C187.98,806.56 189.14,828.36 191.40,838.70 C193.55,848.52 195.52,860.92 199.10,867.10 C201.26,870.83 204.99,874.86 206.70,874.70 C207.73,874.61 208.25,873.10 208.90,871.50 C210.30,868.09 210.92,854.03 212.00,854.00 C212.90,853.98 213.65,861.94 214.80,866.00 C216.02,870.30 217.11,875.20 219.20,879.10 C221.18,882.79 224.15,886.43 226.80,888.90 C228.92,890.88 231.43,891.51 233.40,893.30 C235.44,895.15 236.85,897.76 238.80,899.90 C240.83,902.13 243.75,906.76 245.40,906.40 C247.05,906.04 247.82,901.61 248.70,897.70 C250.35,890.34 250.23,875.43 251.30,864.90 C252.29,855.08 253.78,836.48 254.80,836.50 C255.82,836.52 256.48,855.95 257.40,864.90 C258.23,872.95 258.87,887.74 260.00,887.80 C260.92,887.85 262.17,872.64 263.30,872.60 C264.21,872.57 265.02,878.91 266.10,882.40 C267.36,886.46 268.51,892.74 270.50,895.50 C271.76,897.24 273.65,897.64 274.90,898.80 C276.00,899.82 276.76,902.05 277.70,902.00 C278.80,901.94 279.80,897.31 281.00,897.20 C282.14,897.10 283.12,899.83 284.70,900.90 C286.69,902.25 289.64,903.36 292.30,904.20 C295.06,905.07 298.01,905.37 301.00,906.00 C304.19,906.67 308.65,908.89 310.90,908.10 C312.49,907.54 312.94,904.37 314.10,904.20 C315.13,904.05 315.86,905.91 317.40,906.40 C320.08,907.26 326.51,907.80 329.40,906.80 C331.40,906.11 332.54,904.57 333.80,903.10 C335.12,901.56 335.85,899.02 337.10,897.70 C338.08,896.67 339.37,896.67 340.30,895.50 C341.71,893.73 342.21,887.68 343.60,887.20 C344.46,886.91 345.69,887.78 346.50,888.90 C348.18,891.23 346.76,900.65 349.50,903.10 C351.95,905.28 357.17,903.83 361.00,904.20" fill="none" stroke="#1a1aff" stroke-width="1.9" stroke-linejoin="round" stroke-linecap="round" />
<polygon points="166.8,807 164.10000000000002,815.5 169.5,815.5" fill="#111"/>
<line x1="166.8" y1="819.7" x2="166.8" y2="824.4" stroke="#111" stroke-width="1.8" />
<line x1="166.8" y1="832.5" x2="166.8" y2="836.5" stroke="#111" stroke-width="1.8" />
<polygon points="166.8,869.5 164.10000000000002,878.0 169.5,878.0" fill="#111"/>
<line x1="166.8" y1="881" x2="166.8" y2="886.3" stroke="#111" stroke-width="1.8" />
<line x1="166.8" y1="893" x2="166.8" y2="897" stroke="#111" stroke-width="1.8" />
<polygon points="264.4,819.5 261.7,828.0 267.09999999999997,828.0" fill="#111"/>
<line x1="264.4" y1="833.9" x2="264.4" y2="838.2" stroke="#111" stroke-width="1.8" />
<polygon points="264.4,888.5 261.7,897.0 267.09999999999997,897.0" fill="#111"/>
<line x1="264.4" y1="904.2" x2="264.4" y2="908.6" stroke="#111" stroke-width="1.8" />
<rect x="94.4" y="717.3" width="267.4" height="196.60000000000002" fill="none" stroke="#111" stroke-width="2.5" />
<line x1="94.4" y1="913.9" x2="94.4" y2="910.6999999999999" stroke="#111" stroke-width="1.6" />
<line x1="138.96666666666667" y1="913.9" x2="138.96666666666667" y2="910.6999999999999" stroke="#111" stroke-width="1.6" />
<line x1="183.53333333333333" y1="913.9" x2="183.53333333333333" y2="910.6999999999999" stroke="#111" stroke-width="1.6" />
<line x1="228.1" y1="913.9" x2="228.1" y2="910.6999999999999" stroke="#111" stroke-width="1.6" />
<line x1="272.66666666666663" y1="913.9" x2="272.66666666666663" y2="910.6999999999999" stroke="#111" stroke-width="1.6" />
<line x1="317.23333333333335" y1="913.9" x2="317.23333333333335" y2="910.6999999999999" stroke="#111" stroke-width="1.6" />
<line x1="361.79999999999995" y1="913.9" x2="361.79999999999995" y2="910.6999999999999" stroke="#111" stroke-width="1.6" />
<text x="94.3" y="936.2" font-family="Liberation Serif" font-size="20.3" font-weight="bold" fill="#111" text-anchor="middle" >1600</text>
<text x="183.4" y="936.2" font-family="Liberation Serif" font-size="20.3" font-weight="bold" fill="#111" text-anchor="middle" >1200</text>
<text x="271.9" y="936.2" font-family="Liberation Serif" font-size="20.3" font-weight="bold" fill="#111" text-anchor="middle" >800</text>
<text x="362.3" y="936.2" font-family="Liberation Serif" font-size="20.3" font-weight="bold" fill="#111" text-anchor="middle" >400</text>
<text x="142.8" y="958.2" font-family="Liberation Serif" font-size="21" font-weight="bold" fill="#111" text-anchor="start" textLength="123.2" lengthAdjust="spacingAndGlyphs" >Wavenumber</text>
<text x="273.8" y="958.2" font-family="Liberation Serif" font-size="21" font-weight="bold" fill="#111" text-anchor="start" >(</text>
<text x="281" y="958.2" font-family="Liberation Serif" font-size="21" font-weight="bold" fill="#111" text-anchor="start" textLength="25.8" lengthAdjust="spacingAndGlyphs" >cm</text>
<line x1="308.9" y1="951.4" x2="314.7" y2="951.4" stroke="#222" stroke-width="1.3" />
<text x="316.8" y="953.6" font-family="Liberation Serif" font-size="18.3" font-weight="bold" fill="#111" text-anchor="start" textLength="7.6" lengthAdjust="spacingAndGlyphs" >1</text>
<text x="325.8" y="958.2" font-family="Liberation Serif" font-size="21" font-weight="bold" fill="#111" text-anchor="start" >)</text>
<text x="0" y="0" font-family="Liberation Serif" font-size="21" font-weight="bold" fill="#111" text-anchor="middle" textLength="151.7" lengthAdjust="spacingAndGlyphs" transform="translate(82,819.7) rotate(-90)">Absorbance (a.u.)</text>
<line x1="265.5" y1="730.6" x2="287.3" y2="730.6" stroke="#ff2020" stroke-width="1.8" />
<line x1="265.5" y1="743" x2="287.3" y2="743" stroke="#1a1aff" stroke-width="1.8" />
<text x="290.3" y="733.3" font-family="Liberation Serif" font-size="11.3" font-weight="bold" fill="#ff1a1a" text-anchor="start" textLength="60" lengthAdjust="spacingAndGlyphs" >MPNFW (i)</text>
<text x="290.7" y="746.4" font-family="Liberation Serif" font-size="11.3" font-weight="bold" fill="#1a1aff" text-anchor="start" textLength="48.2" lengthAdjust="spacingAndGlyphs" >PNFW (ii)</text>
<text x="164.1" y="792.2" font-family="Liberation Serif" font-size="10.5" fill="#444" text-anchor="middle" >β</text>
<text x="174.2" y="791.5" font-family="Liberation Serif" font-size="10.5" fill="#444" text-anchor="middle" >γ</text>
<text x="263.9" y="799.4" font-family="Liberation Serif" font-size="10.5" fill="#444" text-anchor="middle" >β</text>
<text x="335.3" y="821.4" font-family="Liberation Serif" font-size="10.5" fill="#444" text-anchor="middle" >β</text>
<text x="235.1" y="890.6" font-family="Liberation Serif" font-size="10.5" font-weight="bold" fill="#444" text-anchor="middle" >α</text>
<text x="280.3" y="892.2" font-family="Liberation Serif" font-size="10.5" font-weight="bold" fill="#444" text-anchor="middle" >α</text>
<text x="312" y="899" font-family="Liberation Serif" font-size="10.5" font-weight="bold" fill="#444" text-anchor="middle" >α</text>
<text x="111.5" y="829.4" font-family="Liberation Serif" font-size="10.5" font-weight="bold" fill="#ff2020" text-anchor="middle" textLength="11.3" lengthAdjust="spacingAndGlyphs" >(i)</text>
<text x="111.5" y="901.3" font-family="Liberation Serif" font-size="10.5" font-weight="bold" fill="#1a1aff" text-anchor="middle" textLength="13.5" lengthAdjust="spacingAndGlyphs" >(ii)</text>
<line x1="529" y1="742.7" x2="529" y2="913.6" stroke="#2a6a2a" stroke-width="2.6" stroke-dasharray="7,10.4"/>
<line x1="637.3" y1="743.5" x2="637.3" y2="913.6" stroke="#2a6a2a" stroke-width="2.6" stroke-dasharray="7,10.4"/>
<polyline points="444.5,815.3 460.5,812.3 472.7,805.1 483.0,795.9 493.2,788.7 502.4,783.6 513.7,773.4 523.9,762.1 534.5,756.6 545.4,768.3 554.6,787.7 564.8,805.1 575.0,813.3 585.7,816.1 595.3,814.2 606.7,810.4 618.2,798.0 627.7,784.6 638.3,774.1 647.8,774.6 658.3,780.8 669.8,787.4 679.3,791.3 690.8,798.9 702.2,809.4 711.8,819.9" fill="none" stroke="#ff1a1a" stroke-width="2.2" stroke-linejoin="round" stroke-linecap="round" />
<polyline points="444.5,898.6 460.5,896.2 470.7,892.1 480.9,884.9 493.2,875.7 503.4,861.4 513.7,840.9 523.9,828.6 534.1,826.2 544.4,838.9 555.6,855.2 566.9,866.5 579.1,874.7 587.6,880.2 596.2,883.1 606.7,877.3 616.3,863.0 626.8,848.7 638.3,843.9 648.8,847.7 658.3,851.6 667.9,855.4 679.3,861.1 689.8,869.7 700.3,877.3 711.8,888.8" fill="none" stroke="#1a1aff" stroke-width="2.2" stroke-linejoin="round" stroke-linecap="round" />
<rect x="444.7" y="716.2" width="267.59999999999997" height="198.39999999999998" fill="none" stroke="#111" stroke-width="2.4" />
<line x1="512" y1="914.6" x2="512" y2="912.1" stroke="#111" stroke-width="1.6" />
<line x1="579.3" y1="914.6" x2="579.3" y2="911.1" stroke="#111" stroke-width="1.6" />
<line x1="646" y1="914.6" x2="646" y2="912.1" stroke="#111" stroke-width="1.6" />
<text x="444.5" y="932.6" font-family="Liberation Sans" font-size="15" font-weight="bold" fill="#111" text-anchor="middle" textLength="36.9" lengthAdjust="spacingAndGlyphs" >3050</text>
<text x="579.6" y="932.6" font-family="Liberation Sans" font-size="15" font-weight="bold" fill="#111" text-anchor="middle" textLength="36.8" lengthAdjust="spacingAndGlyphs" >3000</text>
<text x="694.3" y="932.6" font-family="Liberation Sans" font-size="15" font-weight="bold" fill="#111" text-anchor="start" textLength="17" lengthAdjust="spacingAndGlyphs" >29</text>
<text x="487.5" y="952" font-family="Liberation Serif" font-size="19.5" font-weight="bold" fill="#111" text-anchor="start" textLength="131.8" lengthAdjust="spacing" >Wavenumber</text>
<text x="626.6" y="952.5" font-family="Liberation Serif" font-size="17" fill="#222" text-anchor="start" >(</text>
<text x="633.3" y="952.3" font-family="Liberation Serif" font-size="18" font-weight="bold" fill="#111" text-anchor="start" textLength="28.1" lengthAdjust="spacingAndGlyphs" >cm</text>
<text x="663" y="944.5" font-family="Liberation Serif" font-size="11" fill="#222" text-anchor="start" textLength="5.2" lengthAdjust="spacingAndGlyphs" >-</text>
<text x="671.4" y="947.2" font-family="Liberation Serif" font-size="17.5" font-weight="bold" fill="#111" text-anchor="start" textLength="7.9" lengthAdjust="spacingAndGlyphs" >1</text>
<text x="686.6" y="953" font-family="Liberation Serif" font-size="15.5" fill="#222" text-anchor="start" >)</text>
<text x="0" y="0" font-family="Liberation Serif" font-size="22" font-weight="bold" fill="#111" text-anchor="middle" textLength="163.7" lengthAdjust="spacingAndGlyphs" transform="translate(430,812.5) rotate(-90)">Absorbance (a.u.)</text>
<text x="452.7" y="784.2" font-family="Liberation Serif" font-size="11" font-weight="bold" fill="#ff2020" text-anchor="start" textLength="42.5" lengthAdjust="spacingAndGlyphs" >MPNFW</text>
<text x="464.6" y="865.2" font-family="Liberation Serif" font-size="11" font-weight="bold" fill="#2020ff" text-anchor="start" textLength="31.1" lengthAdjust="spacingAndGlyphs" >PNFW</text>
<text x="520.5" y="734.2" font-family="Liberation Sans" font-size="11.5" font-weight="bold" fill="#333" text-anchor="start" textLength="8" lengthAdjust="spacingAndGlyphs" >v</text>
<text x="529.7" y="737.2" font-family="Liberation Sans" font-size="12.5" font-weight="bold" fill="#333" text-anchor="start" textLength="14.2" lengthAdjust="spacingAndGlyphs" >as</text>
<text x="547.4" y="738.4" font-family="Liberation Sans" font-size="12.5" font-weight="bold" fill="#333" text-anchor="start" >(</text>
<text x="552.7" y="737.2" font-family="Liberation Sans" font-size="11" font-weight="bold" fill="#333" text-anchor="start" textLength="18.0" lengthAdjust="spacingAndGlyphs" >CH</text>
<text x="571.2" y="740.6" font-family="Liberation Sans" font-size="10.5" font-weight="bold" fill="#333" text-anchor="start" >2</text>
<text x="580.3" y="738.4" font-family="Liberation Sans" font-size="12.5" font-weight="bold" fill="#333" text-anchor="start" >)</text>
<text x="629.8" y="734.2" font-family="Liberation Sans" font-size="11.5" font-weight="bold" fill="#333" text-anchor="start" textLength="8" lengthAdjust="spacingAndGlyphs" >v</text>
<text x="638" y="737.2" font-family="Liberation Sans" font-size="12.5" font-weight="bold" fill="#333" text-anchor="start" textLength="6.2" lengthAdjust="spacingAndGlyphs" >s</text>
<text x="648.2" y="738.4" font-family="Liberation Sans" font-size="12.5" font-weight="bold" fill="#333" text-anchor="start" >(</text>
<text x="652.8" y="737.2" font-family="Liberation Sans" font-size="11" font-weight="bold" fill="#333" text-anchor="start" textLength="19.7" lengthAdjust="spacingAndGlyphs" >CH</text>
<text x="673" y="740.6" font-family="Liberation Sans" font-size="10.5" font-weight="bold" fill="#333" text-anchor="start" >2</text>
<text x="681" y="738.4" font-family="Liberation Sans" font-size="12.5" font-weight="bold" fill="#333" text-anchor="start" >)</text>
<rect x="713.4" y="795" width="4" height="130" fill="#bfd2ec" stroke="none" stroke-width="1" />
<rect x="713.4" y="860.5" width="4" height="43" fill="#94cbe0" stroke="none" stroke-width="1" />
<line x1="713.4" y1="898.6" x2="717.4" y2="898.6" stroke="#3a6a9a" stroke-width="1.5" />
<text x="713.4" y="951.6" font-family="Liberation Sans" font-size="11" font-weight="bold" fill="#8a5a30" text-anchor="start" >(</text>
</svg>
</body></html>
